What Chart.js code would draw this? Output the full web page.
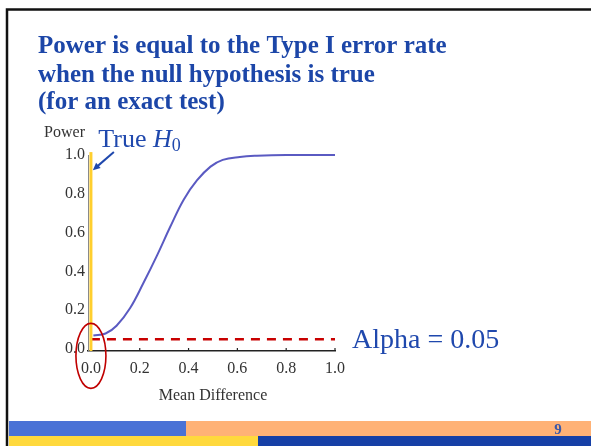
<!DOCTYPE html>
<html>
<head>
<meta charset="utf-8">
<script src="https://cdn.jsdelivr.net/npm/chart.js@4.4.1/dist/chart.umd.min.js"></script>
<style>
  html, body { margin: 0; padding: 0; background: #fff; }
  #wrap { width: 591px; height: 446px; }
</style>
</head>
<body>
<div id="wrap"><canvas id="powerChart" width="591" height="446"></canvas></div>
<script>
// --- values ---
const meanDiff = [0.01, 0.06, 0.105, 0.16, 0.215, 0.27, 0.325, 0.38, 0.435, 0.49, 0.54, 0.61, 0.68, 0.80, 1.00];
const power    = [0.07, 0.08, 0.12, 0.21, 0.34, 0.48, 0.63, 0.77, 0.87, 0.94, 0.975, 0.99, 0.996, 1.00, 1.00];

const alphaX = [0, 1.0];
const alphaY = [0.05, 0.05];

const nullX = [0, 0];
const nullY = [-0.01, 1.015];

const xTickValues = [0, 0.2, 0.4, 0.6, 0.8, 1.0];
const xTickLabels = ['0.0', '0.2', '0.4', '0.6', '0.8', '1.0'];
const yTickValues = [0, 0.2, 0.4, 0.6, 0.8, 1.0];
const yTickLabels = ['0.0', '0.2', '0.4', '0.6', '0.8', '1.0'];

const titleLines = [
  'Power is equal to the Type I error rate',
  'when the null hypothesis is true',
  '(for an exact test)'
];
const xAxisTitle = 'Mean Difference';
const yAxisTitle = 'Power';
const alphaLabel = 'Alpha = 0.05';
const pageNumber = '9';

// annotation anchors (data units)
const trueLabelAt = [0.03, 1.04];
const arrowFrom = [0.094, 1.015];
const arrowTo = [0.008, 0.922];
const alphaLabelAt = [1.07, 0.005];
const circleAt = [0, -0.035];

const SERIF = "'Liberation Serif', 'Times New Roman', serif";
const BLUE = '#1f48ad';

const slideDecor = {
  id: 'slideDecor',
  beforeDraw(chart) {
    const ctx = chart.ctx;
    ctx.save();
    ctx.fillStyle = '#fff';
    ctx.fillRect(0, 0, chart.width, chart.height);
    ctx.restore();
  },
  afterDraw(chart) {
    const { ctx, scales: { x, y } } = chart;
    ctx.save();

    // slide frame
    ctx.strokeStyle = '#111';
    ctx.lineWidth = 2.5;
    ctx.beginPath();
    ctx.moveTo(7, 446);
    ctx.lineTo(7, 9.5);
    ctx.lineTo(591, 9.5);
    ctx.stroke();

    // bottom bars
    ctx.fillStyle = '#4a72d6'; ctx.fillRect(9, 421, 177, 15);
    ctx.fillStyle = '#ffb276'; ctx.fillRect(186, 421, 405, 15);
    ctx.fillStyle = '#ffd93d'; ctx.fillRect(9, 436, 249, 10);
    ctx.fillStyle = '#1640a6'; ctx.fillRect(258, 436, 333, 10);

    ctx.fillStyle = '#3a58a8';
    ctx.font = 'bold 15px ' + SERIF;
    ctx.textAlign = 'center';
    ctx.textBaseline = 'middle';
    ctx.fillText(pageNumber, 558, 430);

    // title
    ctx.fillStyle = '#1c46a8';
    ctx.font = 'bold 25px ' + SERIF;
    ctx.textAlign = 'left';
    ctx.textBaseline = 'alphabetic';
    const baselines = [53, 82, 109];
    titleLines.forEach((t, i) => ctx.fillText(t, 38, baselines[i]));

    // axis titles
    ctx.fillStyle = '#333';
    ctx.font = '16px ' + SERIF;
    ctx.textAlign = 'right';
    ctx.fillText(yAxisTitle, 85, 137);
    ctx.textAlign = 'center';
    ctx.fillText(xAxisTitle, x.getPixelForValue(0.5), 400);

    // small ticks on x axis
    ctx.strokeStyle = '#222';
    ctx.lineWidth = 1.2;
    xTickValues.slice(1).forEach(v => {
      const px = x.getPixelForValue(v);
      ctx.beginPath();
      ctx.moveTo(px, y.bottom);
      ctx.lineTo(px, y.bottom - 3);
      ctx.stroke();
    });

    // red circle round the origin
    ctx.strokeStyle = '#c00000';
    ctx.lineWidth = 1.6;
    ctx.beginPath();
    ctx.ellipse(x.getPixelForValue(circleAt[0]), y.getPixelForValue(circleAt[1]), 15, 32.5, 0, 0, Math.PI * 2);
    ctx.stroke();

    // arrow to the null line
    const ax0 = x.getPixelForValue(arrowFrom[0]), ay0 = y.getPixelForValue(arrowFrom[1]);
    const ax1 = x.getPixelForValue(arrowTo[0]), ay1 = y.getPixelForValue(arrowTo[1]);
    const ang = Math.atan2(ay1 - ay0, ax1 - ax0);
    ctx.strokeStyle = BLUE;
    ctx.fillStyle = BLUE;
    ctx.lineWidth = 2;
    ctx.beginPath();
    ctx.moveTo(ax0, ay0);
    ctx.lineTo(ax1 - 5 * Math.cos(ang), ay1 - 5 * Math.sin(ang));
    ctx.stroke();
    ctx.beginPath();
    ctx.moveTo(ax1, ay1);
    ctx.lineTo(ax1 - 8 * Math.cos(ang - 0.45), ay1 - 8 * Math.sin(ang - 0.45));
    ctx.lineTo(ax1 - 8 * Math.cos(ang + 0.45), ay1 - 8 * Math.sin(ang + 0.45));
    ctx.closePath();
    ctx.fill();

    // "True H0"
    let tx = x.getPixelForValue(trueLabelAt[0]);
    const ty = y.getPixelForValue(trueLabelAt[1]);
    ctx.textAlign = 'left';
    ctx.font = '26px ' + SERIF;
    ctx.fillText('True ', tx, ty);
    tx += ctx.measureText('True ').width;
    ctx.font = 'italic 26px ' + SERIF;
    ctx.fillText('H', tx, ty);
    tx += ctx.measureText('H').width;
    ctx.font = '18px ' + SERIF;
    ctx.fillText('0', tx, ty + 4);

    // alpha label
    ctx.font = '28px ' + SERIF;
    ctx.fillText(alphaLabel, x.getPixelForValue(alphaLabelAt[0]), y.getPixelForValue(alphaLabelAt[1]));

    ctx.restore();
  }
};

const ctx = document.getElementById('powerChart');
new Chart(ctx, {
  type: 'line',
  data: {
    datasets: [
      {
        label: 'True H0',
        data: nullX.map((v, i) => ({ x: v, y: nullY[i] })),
        borderColor: '#ffcf2e',
        borderWidth: 3,
        pointRadius: 0,
        clip: false
      },
      {
        label: 'Alpha',
        data: alphaX.map((v, i) => ({ x: v, y: alphaY[i] })),
        borderColor: '#c80000',
        borderWidth: 2.5,
        borderDash: [9, 7],
        pointRadius: 0,
        clip: false
      },
      {
        label: 'Power',
        data: meanDiff.map((v, i) => ({ x: v, y: power[i] })),
        borderColor: '#5a5ac2',
        borderWidth: 2,
        pointRadius: 0,
        tension: 0.4,
        clip: false
      }
    ]
  },
  options: {
    responsive: false,
    animation: false,
    layout: {
      autoPadding: false,
      padding: { left: 58, right: 256, top: 155, bottom: 45 }
    },
    plugins: {
      legend: { display: false },
      tooltip: { enabled: false }
    },
    scales: {
      x: {
        type: 'linear',
        min: -0.012,
        max: 1.0,
        afterFit(s) { s.height = 50; },
        afterBuildTicks(s) { s.ticks = xTickValues.map(v => ({ value: v })); },
        ticks: {
          callback: (v, i) => xTickLabels[i],
          font: { family: SERIF, size: 16 },
          color: '#333',
          padding: 8,
          maxRotation: 0,
          autoSkip: false
        },
        grid: { display: false, drawTicks: false },
        border: { color: '#222', width: 1.5 }
      },
      y: {
        type: 'linear',
        min: -0.01,
        max: 1.0,
        afterFit(s) { s.width = 30; },
        afterBuildTicks(s) { s.ticks = yTickValues.map(v => ({ value: v })); },
        ticks: {
          callback: (v, i) => yTickLabels[i],
          font: { family: SERIF, size: 16 },
          color: '#333',
          padding: 3,
          autoSkip: false
        },
        grid: { display: false, drawTicks: false },
        border: { color: '#8a8a8a', width: 1 }
      }
    }
  },
  plugins: [slideDecor]
});
</script>
</body>
</html>
